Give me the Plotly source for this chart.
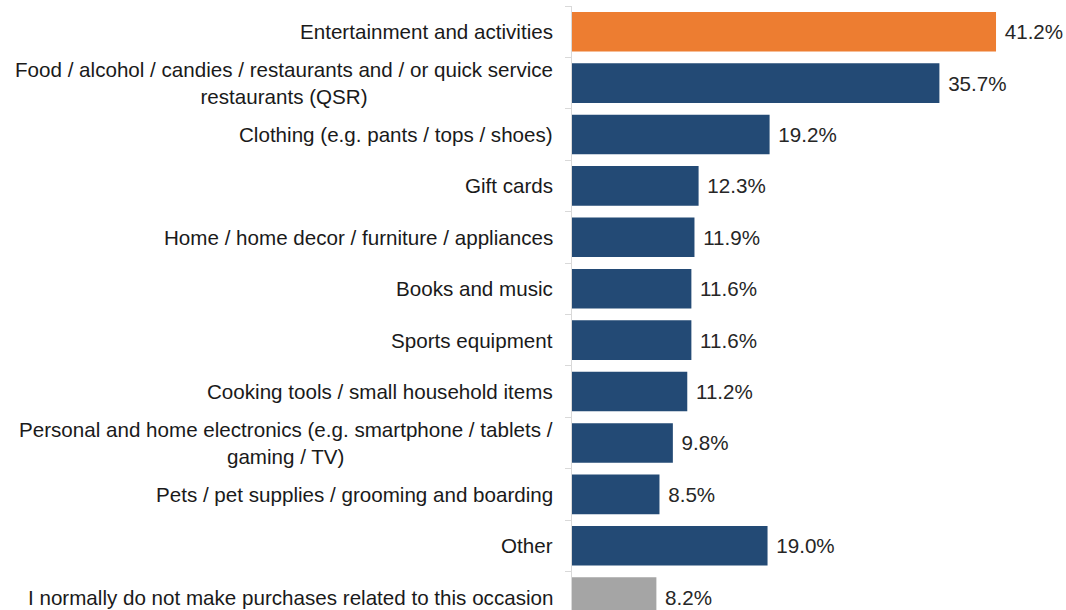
import plotly.graph_objects as go

categories = [
    "Entertainment and activities",
    "Food / alcohol / candies / restaurants and / or quick service<br>restaurants (QSR)",
    "Clothing (e.g. pants / tops / shoes)",
    "Gift cards",
    "Home / home decor / furniture / appliances",
    "Books and music",
    "Sports equipment",
    "Cooking tools / small household items",
    "Personal and home electronics (e.g. smartphone / tablets /<br>gaming / TV)",
    "Pets / pet supplies / grooming and boarding",
    "Other",
    "I normally do not make purchases related to this occasion",
]
values = [41.2, 35.7, 19.2, 12.3, 11.9, 11.6, 11.6, 11.2, 9.8, 8.5, 19.0, 8.2]
colors = ["#ED7D31"] + ["#234A75"] * 10 + ["#A5A5A5"]

FONT = "Liberation Sans, Arial, sans-serif"
FS = 20.6

fig = go.Figure(go.Bar(
    x=values,
    y=list(range(len(categories))),
    orientation="h",
    marker=dict(color=colors, line=dict(width=0)),
    text=[f" {v:.1f}%" for v in values],
    textposition="outside",
    textfont=dict(family=FONT, size=FS, color="#262626"),
    cliponaxis=False,
    width=0.77,
))

annotations = []
for i, c in enumerate(categories):
    annotations.append(dict(
        x=0, xref="paper", y=i, yref="y",
        text=c, showarrow=False, xanchor="right", yanchor="middle",
        align="center", xshift=-17,
        font=dict(family=FONT, size=FS, color="#1A1A1A"),
    ))

fig.update_layout(
    width=1066, height=610,
    margin=dict(l=572, r=0, t=6, b=0),
    paper_bgcolor="white", plot_bgcolor="white",
    showlegend=False,
    annotations=annotations,
    uniformtext=dict(minsize=FS - 1, mode="show"),
    xaxis=dict(range=[0, 48], visible=False, showgrid=False, zeroline=False),
    yaxis=dict(
        range=[11.25, -0.5],
        tickmode="array",
        tickvals=[i + 0.5 for i in range(-1, len(categories))],
        showticklabels=False,
        ticks="outside", ticklen=6, tickcolor="#D9D9D9",
        showline=True, linecolor="#D9D9D9", linewidth=1,
        showgrid=False, zeroline=False,
    ),
)

fig.write_html(
    "out.html",
    config={"displayModeBar": False},
    post_script="document.body.style.margin='0';document.body.style.overflow='hidden';",
)
